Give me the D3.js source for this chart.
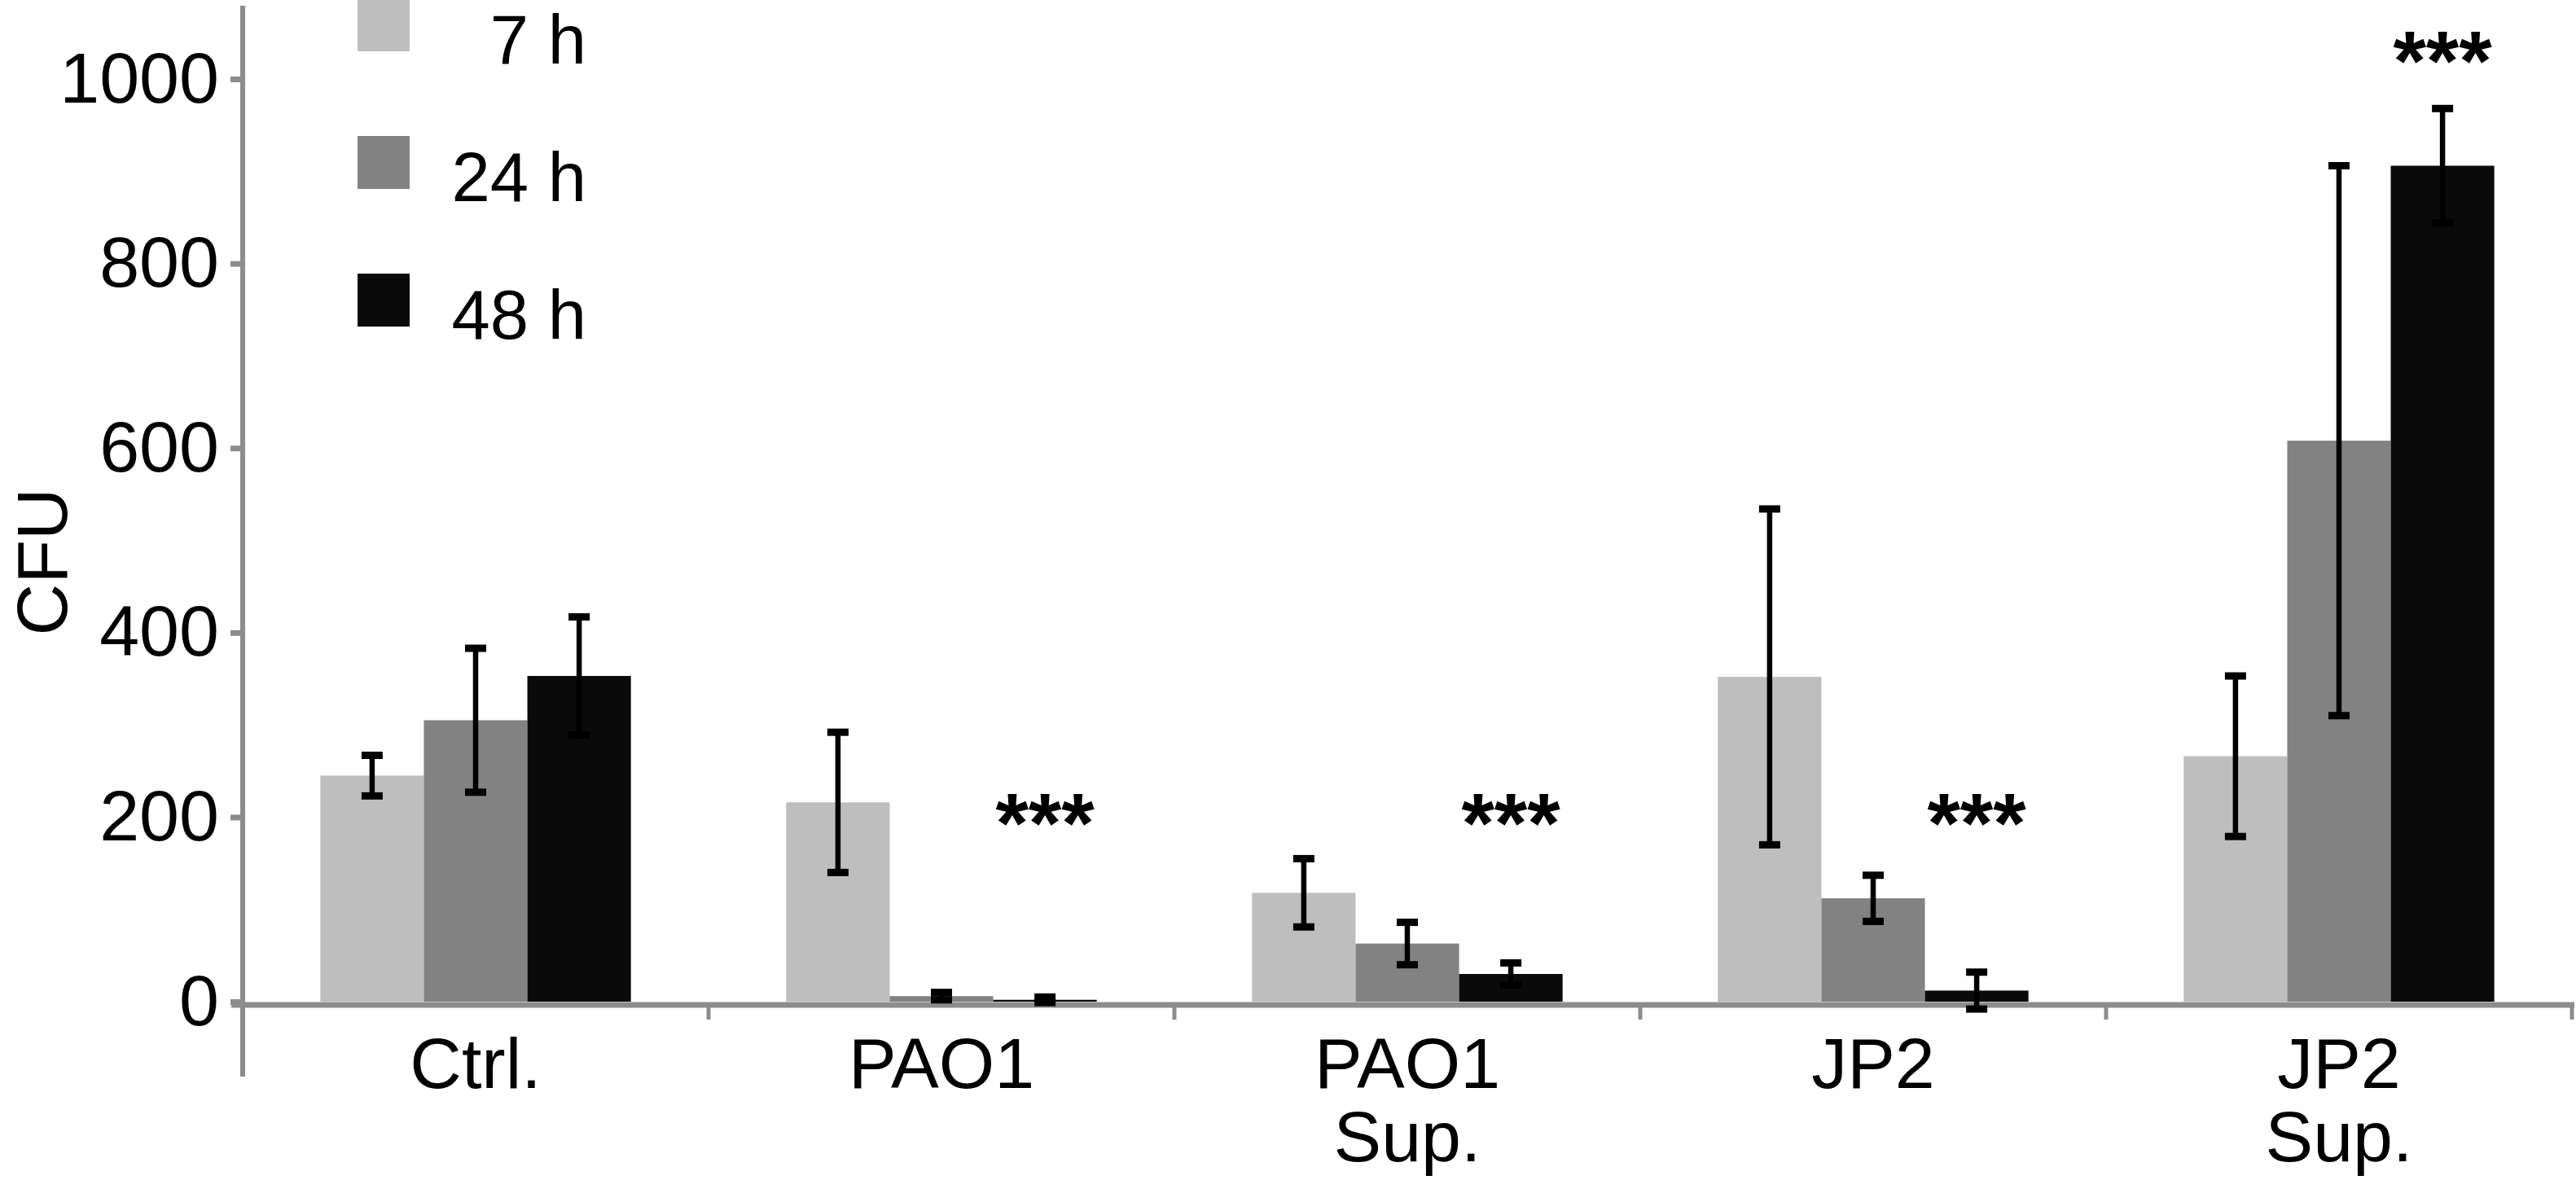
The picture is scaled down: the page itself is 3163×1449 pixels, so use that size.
<!DOCTYPE html>
<html>
<head>
<meta charset="utf-8">
<script src="https://cdn.jsdelivr.net/npm/d3@7"></script>
<style>
  body { margin: 0; background: #fff; }
  text { font-family: "Liberation Sans", Arial, sans-serif; fill: #000; }
</style>
</head>
<body>
<div id="chart"></div>
<script>
var width = 3163;
var height = 1449;

// data
var groups = ["Ctrl.", "PAO1", "PAO1 Sup.", "JP2", "JP2 Sup."];
var groupLines = [["Ctrl."], ["PAO1"], ["PAO1", "Sup."], ["JP2"], ["JP2", "Sup."]];
var series = ["7 h", "24 h", "48 h"];
var colors = ["#bebebe", "#828282", "#0a0a0a"];

var cfu7  = [245, 216, 118, 352, 266];
var cfu24 = [305, 6, 63, 112, 608];
var cfu48 = [353, 2, 30, 12, 906];
var err7  = [22, 76, 37, 182, 87];
var err24 = [78, 4, 23, 25, 298];
var err48 = [64, 3, 12, 20, 62];

var yTicks = [0, 200, 400, 600, 800, 1000];
// significance marks: group and height (CFU) of the mark
var sigGroups = ["PAO1", "PAO1 Sup.", "JP2", "JP2 Sup."];
var sigLevels = [214, 214, 214, 1040];

var means = [cfu7, cfu24, cfu48];
var errs = [err7, err24, err48];

var axisColor = "#8c8c8c";
var fontSize = 88;
var legendSize = 85;
var starSize = 104;

var svg = d3.select("#chart").append("svg")
    .attr("width", width)
    .attr("height", height);

var x0 = d3.scaleBand()
    .domain(groups)
    .range([298, 3158])
    .paddingInner(0)
    .paddingOuter(0);

var x1 = d3.scaleBand()
    .domain(series)
    .range([0, x0.bandwidth()])
    .paddingInner(0)
    .paddingOuter(0.75);

var y = d3.scaleLinear()
    .domain([0, 1000])
    .range([1230, 97]);

// flatten into bar records
var bars = [];
groups.forEach(function(g, gi) {
    series.forEach(function(s, si) {
        bars.push({ group: g, series: s, si: si, value: means[si][gi], err: errs[si][gi] });
    });
});

// x axis line + boundary ticks
svg.append("line")
    .attr("x1", x0.range()[0] - 14)
    .attr("x2", x0.range()[1] + 3)
    .attr("y1", y(0) + 4)
    .attr("y2", y(0) + 4)
    .attr("stroke", axisColor)
    .attr("stroke-width", 7);

svg.selectAll(".xtick")
    .data(groups)
    .enter().append("line")
    .attr("class", "xtick")
    .attr("x1", function(d) { return x0(d) + x0.bandwidth(); })
    .attr("x2", function(d) { return x0(d) + x0.bandwidth(); })
    .attr("y1", y(0) + 4)
    .attr("y2", y(0) + 22)
    .attr("stroke", axisColor)
    .attr("stroke-width", 5);

// y axis
var yAxis = svg.append("g")
    .attr("transform", "translate(298,0)")
    .call(d3.axisLeft(y).tickValues(yTicks).tickFormat(d3.format("d")).tickSize(15).tickPadding(14));

yAxis.select(".domain").remove();
yAxis.selectAll(".tick line")
    .attr("stroke", axisColor)
    .attr("stroke-width", 7);
yAxis.selectAll(".tick text")
    .style("font-size", fontSize + "px")
    .style("font-family", "'Liberation Sans', Arial, sans-serif")
    .attr("fill", "#000");

svg.append("line")
    .attr("x1", 298).attr("x2", 298)
    .attr("y1", 7).attr("y2", 1322)
    .attr("stroke", axisColor)
    .attr("stroke-width", 6);

// bars
svg.selectAll(".bar")
    .data(bars)
    .enter().append("rect")
    .attr("class", "bar")
    .attr("x", function(d) { return x0(d.group) + x1(d.series); })
    .attr("width", x1.bandwidth())
    .attr("y", function(d) { return y(d.value); })
    .attr("height", function(d) { return y(0) - y(d.value); })
    .attr("fill", function(d) { return colors[d.si]; });

// error bars
var eb = svg.selectAll(".err")
    .data(bars)
    .enter().append("g")
    .attr("class", "err")
    .attr("transform", function(d) {
        return "translate(" + (x0(d.group) + x1(d.series) + x1.bandwidth() / 2) + ",0)";
    });

eb.append("line")
    .attr("y1", function(d) { return y(d.value + d.err); })
    .attr("y2", function(d) { return y(d.value - d.err); })
    .attr("stroke", "#000")
    .attr("stroke-width", 6.5);

eb.selectAll(".cap")
    .data(function(d) { return [d.value + d.err, d.value - d.err]; })
    .enter().append("line")
    .attr("class", "cap")
    .attr("x1", -13).attr("x2", 13)
    .attr("y1", function(v) { return y(v); })
    .attr("y2", function(v) { return y(v); })
    .attr("stroke", "#000")
    .attr("stroke-width", 9);

// significance stars, centred on the 48 h bar
svg.selectAll(".sig")
    .data(sigGroups)
    .enter().append("text")
    .attr("class", "sig")
    .attr("x", function(d) { return x0(d) + x1("48 h") + x1.bandwidth() / 2; })
    .attr("y", function(d, i) { return y(sigLevels[i]) + 0.57 * starSize; })
    .attr("text-anchor", "middle")
    .style("font-size", starSize + "px")
    .style("font-weight", "bold")
    .text("***");

// category labels
var cat = svg.selectAll(".cat")
    .data(groups)
    .enter().append("text")
    .attr("class", "cat")
    .attr("text-anchor", "middle")
    .attr("x", function(d) { return x0(d) + x0.bandwidth() / 2; })
    .attr("y", 1336)
    .style("font-size", fontSize + "px");

cat.selectAll("tspan")
    .data(function(d, i) { return groupLines[i]; })
    .enter().append("tspan")
    .attr("x", function() { return d3.select(this.parentNode).attr("x"); })
    .attr("dy", function(d, i) { return i === 0 ? 0 : 90; })
    .text(function(d) { return d; });

// y axis title
svg.append("text")
    .attr("transform", "translate(82,690) rotate(-90)")
    .attr("text-anchor", "middle")
    .style("font-size", fontSize + "px")
    .text("CFU");

// legend
var legend = svg.append("g")
    .attr("class", "legend")
    .attr("transform", "translate(439,-2)");

legend.selectAll("rect")
    .data(series)
    .enter().append("rect")
    .attr("x", 0)
    .attr("y", function(d, i) { return i * 169; })
    .attr("width", 64)
    .attr("height", 65)
    .attr("fill", function(d, i) { return colors[i]; });

legend.selectAll("text")
    .data(series)
    .enter().append("text")
    .attr("x", 281)
    .attr("y", function(d, i) { return i * 169 + 80; })
    .attr("text-anchor", "end")
    .style("font-size", legendSize + "px")
    .text(function(d) { return d; });
</script>
</body>
</html>
